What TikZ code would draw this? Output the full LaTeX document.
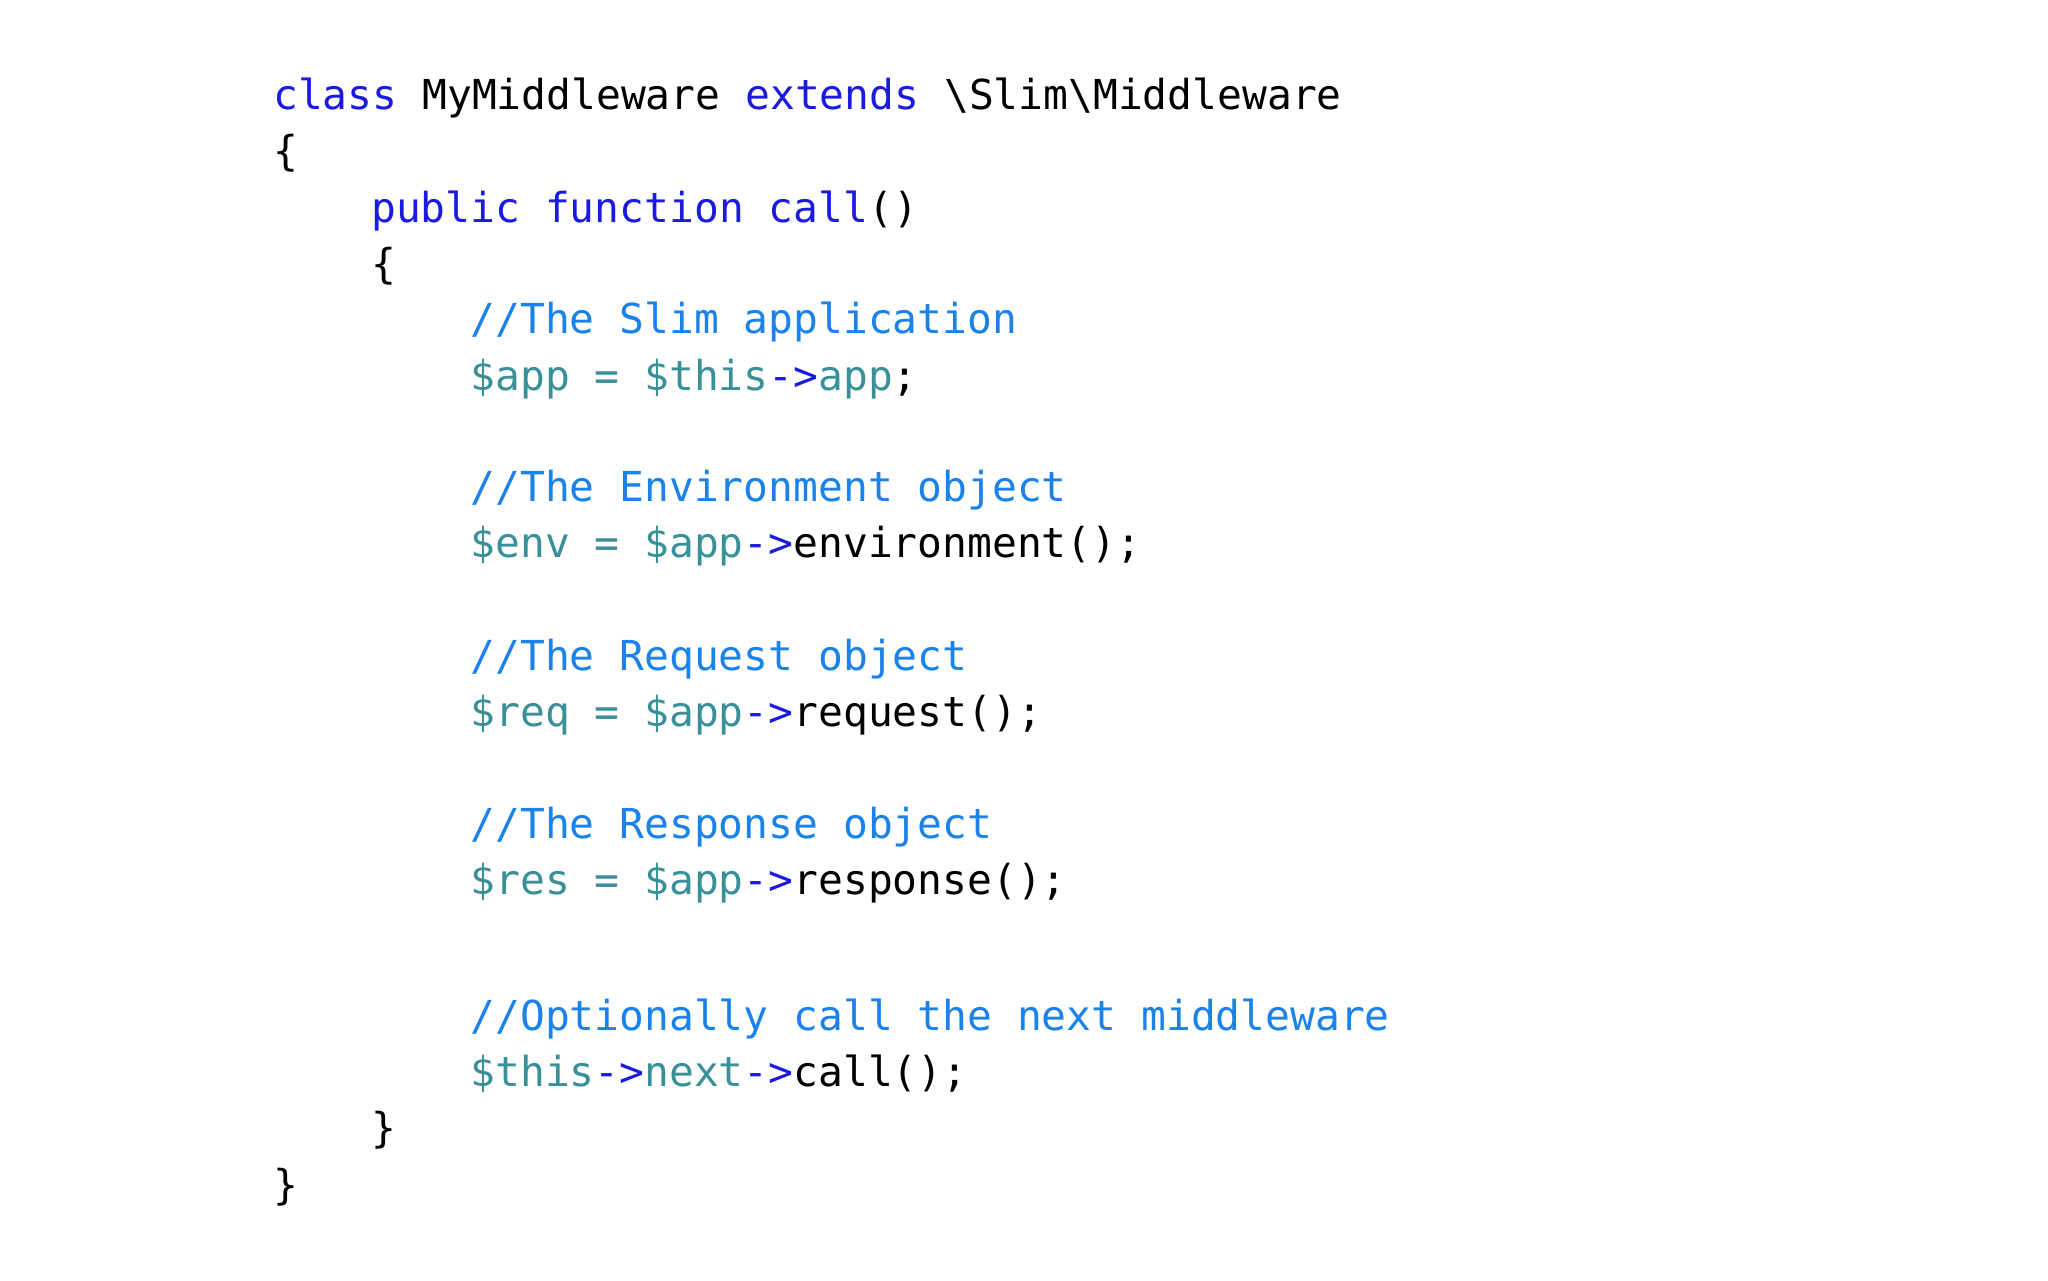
\documentclass[tikz,border=0pt]{standalone}
\usepackage{fontspec}
\setmonofont{DejaVu Sans Mono}
\definecolor{kw}{HTML}{1A1AE0}
\definecolor{cm}{HTML}{1A82E8}
\definecolor{vr}{HTML}{3A9098}
\newcommand{\K}[1]{\textcolor{kw}{#1}}
\newcommand{\C}[1]{\textcolor{cm}{#1}}
\newcommand{\V}[1]{\textcolor{vr}{#1}}
\begin{document}
\begin{tikzpicture}[x=1pt,y=1pt,
  ln/.style={anchor=base west,inner sep=0pt,font=\ttfamily\fontsize{31.6}{38}\selectfont}]
\useasboundingbox[fill=white] (0,0) rectangle (1568,-980);
\node[ln] (l1) at (209,-84) {\K{class} MyMiddleware \K{extends} \textbackslash Slim\textbackslash Middleware};
\node[ln] (l2) at (209,-127) {\{};
\node[ln] (l3) at (284,-170) {\K{public function call}()};
\node[ln] (l4) at (284,-213) {\{};
\node[ln] (l5) at (360,-255) {\C{//The Slim application}};
\node[ln] (l6) at (360,-299) {\V{\$app = \$this}\K{->}\V{app};};
\node[ln] (l8) at (360,-384) {\C{//The Environment object}};
\node[ln] (l9) at (360,-427) {\V{\$env = \$app}\K{->}environment();};
\node[ln] (l11) at (360,-513) {\C{//The Request object}};
\node[ln] (l12) at (360,-556) {\V{\$req = \$app}\K{->}request();};
\node[ln] (l14) at (360,-642) {\C{//The Response object}};
\node[ln] (l15) at (360,-685) {\V{\$res = \$app}\K{->}response();};
\node[ln] (l17) at (360,-789) {\C{//Optionally call the next middleware}};
\node[ln] (l18) at (360,-832) {\V{\$this}\K{->}\V{next}\K{->}call();};
\node[ln] (l19) at (284,-875) {\}};
\node[ln] (l20) at (209,-918) {\}};
\end{tikzpicture}
\end{document}
